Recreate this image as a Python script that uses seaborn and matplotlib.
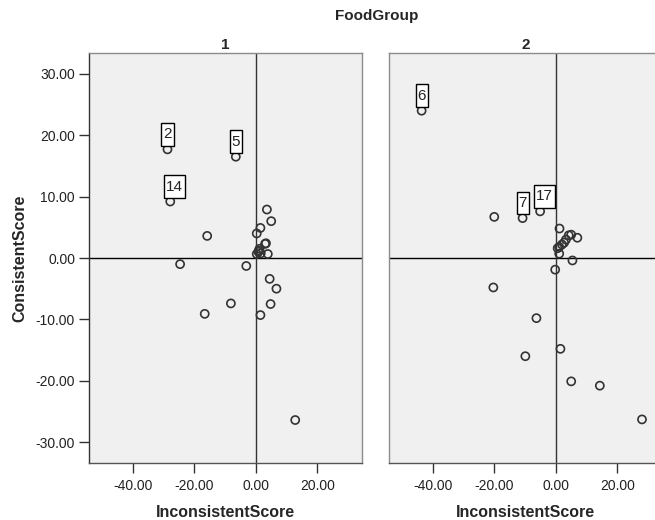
import matplotlib
matplotlib.use("Agg")
import matplotlib.pyplot as plt
import seaborn as sns
import pandas as pd
from matplotlib.ticker import FormatStrFormatter
from matplotlib.path import Path

# ---- data ----
g1_x = [-28.7, -6.5, -27.8, 3.6, 5.0, -15.8, 1.5, 0.3, 3.3, 3.0, 1.2, 0.85, 1.6, 0.3, 3.9, 1.0,
        -24.6, -3.1, 4.5, 6.7, -8.1, 4.8, -16.6, 1.5, 12.8]
g1_y = [17.7, 16.5, 9.2, 7.9, 6.0, 3.6, 4.9, 4.0, 2.4, 2.3, 1.5, 1.0, 0.75, 0.65, 0.65, 1.2,
        -1.0, -1.3, -3.4, -5.0, -7.4, -7.5, -9.1, -9.3, -26.4]
g1_lab = ["2", "5", "14"] + [""] * 22

g2_x = [-43.6, -20.0, -10.8, -5.1, 1.2, 4.2, 5.0, 7.0, 3.3, 2.7, 2.0, 1.1, 0.6, 1.1, 5.4, -0.2,
        -20.3, -6.3, 1.5, -9.9, 5.0, 14.3, 28.0]
g2_y = [24.0, 6.7, 6.5, 7.6, 4.8, 3.7, 3.8, 3.3, 3.0, 2.5, 2.2, 1.8, 1.6, 0.7, -0.4, -1.9,
        -4.8, -9.8, -14.8, -16.0, -20.1, -20.8, -26.3]
g2_lab = ["6", "", "7", "17"] + [""] * 19

groups = ["1", "2"]
x_ticks = [-40, -20, 0, 20]
y_ticks = [-30, -20, -10, 0, 10, 20, 30]

df = pd.concat([
    pd.DataFrame({"InconsistentScore": g1_x, "ConsistentScore": g1_y, "label": g1_lab, "FoodGroup": "1"}),
    pd.DataFrame({"InconsistentScore": g2_x, "ConsistentScore": g2_y, "label": g2_lab, "FoodGroup": "2"}),
])

sns.set_theme(style="white")
plt.rcParams["font.family"] = ["Liberation Sans", "DejaVu Sans"]

W, H = 655, 520
fig = plt.figure(figsize=(W / 100, H / 100), dpi=100)


def tallbox(x0, y0, width, height, mutation_size):
    px = 0.13 * mutation_size
    py = 0.28 * mutation_size
    xa, ya = x0 - px, y0 - py
    xb, yb = x0 + width + px, y0 + height + py
    return Path([(xa, ya), (xb, ya), (xb, yb), (xa, yb), (xa, ya)],
                [Path.MOVETO, Path.LINETO, Path.LINETO, Path.LINETO, Path.CLOSEPOLY])


def box(l, t, r, b):
    return [l / W, 1 - b / H, (r - l) / W, (b - t) / H]

axes = [fig.add_axes(box(89, 53, 362, 463)), fig.add_axes(box(389, 53, 662, 463))]

for i, (ax, g) in enumerate(zip(axes, groups)):
    sub = df[df["FoodGroup"] == g]
    ax.set_facecolor("#f0f0f0")
    ax.axhline(0, color="black", lw=1.0, zorder=1)
    ax.axvline(0, color="#333333", lw=1.0, zorder=1)
    sns.scatterplot(data=sub, x="InconsistentScore", y="ConsistentScore", ax=ax,
                    s=34, facecolor="none", edgecolor="#333333", linewidth=1.2, zorder=3)
    for _, r in sub.iterrows():
        if r["label"]:
            ax.annotate(r["label"], (r["InconsistentScore"], r["ConsistentScore"]),
                        xytext=(-4, 8), textcoords="offset pixels", ha="left", va="bottom",
                        fontsize=11, color="#222222", zorder=4,
                        bbox=dict(boxstyle=tallbox, fc="white", ec="black", lw=1.0))
    ax.set_xlim(-54.2, 34.5)
    ax.set_ylim(-33.4, 33.4)
    ax.set_xticks(x_ticks)
    ax.xaxis.set_major_formatter(FormatStrFormatter("%.2f"))
    ax.tick_params(axis="x", direction="out", length=7, width=1, color="#333333",
                   labelsize=10, labelcolor="#222222", bottom=True, pad=4.5)
    for s in ["top", "right", "left"]:
        ax.spines[s].set_color("#8c8c8c")
        ax.spines[s].set_linewidth(1.0)
    ax.spines["bottom"].set_color("#555555")
    ax.spines["bottom"].set_linewidth(1.0)
    ax.set_xlabel("InconsistentScore", fontsize=11.5, fontweight="bold", labelpad=9)
    ax.set_title(g, fontsize=11, fontweight="bold", pad=3)
    if i == 0:
        ax.set_yticks(y_ticks)
        ax.yaxis.set_major_formatter(FormatStrFormatter("%.2f"))
        ax.tick_params(axis="y", direction="out", length=7, width=1, color="#333333",
                       labelsize=10, labelcolor="#222222", left=True, pad=3)
        ax.spines["left"].set_color("#333333")
        ax.set_ylabel("ConsistentScore", fontsize=11.5, fontweight="bold", labelpad=6)
    else:
        ax.set_yticks(y_ticks)
        ax.set_yticklabels([])
        ax.tick_params(axis="y", left=False)
        ax.set_ylabel("")

fig.text(377 / W, 1 - 16 / H, "FoodGroup", ha="center", va="center",
         fontsize=11, fontweight="bold")

fig.savefig("out.png", dpi=100)
